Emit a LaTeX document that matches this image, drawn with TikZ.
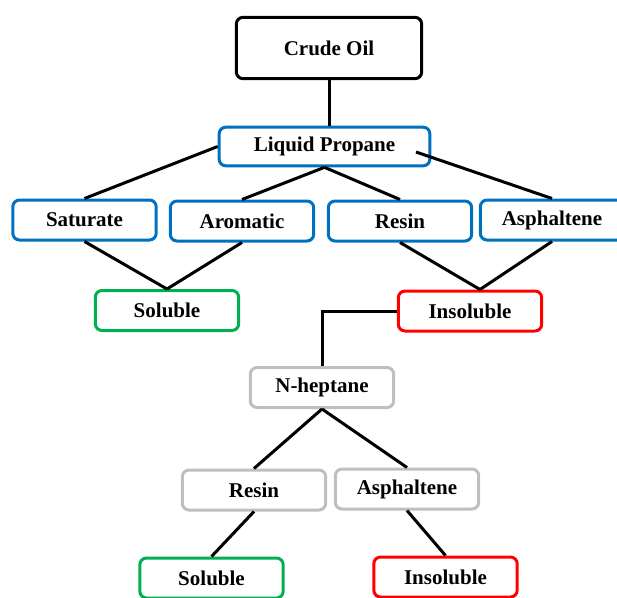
\documentclass[tikz,border=0pt]{standalone}
\usepackage{fontspec}
\setmainfont{Liberation Serif}
\usetikzlibrary{calc}

\definecolor{boxblue}{RGB}{0,112,192}
\definecolor{boxgreen}{RGB}{0,176,80}
\definecolor{boxred}{RGB}{255,0,0}
\definecolor{boxgray}{RGB}{191,191,191}

\tikzset{every picture/.style={line width=0.75pt}}
\tikzset{
  box/.style={draw, line width=2.25pt, rounded corners=5pt, fill=white, inner sep=0pt,
    minimum width=107.5pt, minimum height=30pt, font=\fontsize{15.75}{18}\selectfont\bfseries},
  link/.style={line width=2.25pt},
}

\begin{document}
\begin{tikzpicture}[x=0.75pt,y=0.75pt,yscale=-1,xscale=1]
\useasboundingbox (0,0) rectangle (617,597);

% propane step
\node [box, minimum width=139pt, minimum height=46pt] (crude) at (329,48) {Crude Oil};
\node [box, draw=boxblue, minimum width=158pt, minimum height=29pt] (prop) at (324.5,146.5) {Liquid Propane};
\node [box, draw=boxblue] (sat) at (84.5,220) {Saturate};
\node [box, draw=boxblue] (aro) at (242,221) {Aromatic};
\node [box, draw=boxblue] (res) at (400,221) {Resin};
\node [box, draw=boxblue] (asp) at (552,220) {Asphaltene};
\node [box, draw=boxgreen] (sol) at (167,310.5) {Soluble};
\node [box, draw=boxred] (ins) at (470,311) {Insoluble};

% heptane step
\node [box, draw=boxgray] (hep) at (322,387.5) {N-heptane};
\node [box, draw=boxgray] (hres) at (254,490) {Resin};
\node [box, draw=boxgray] (hasp) at (407,489) {Asphaltene};
\node [box, draw=boxgreen] (hsol) at (211.5,578) {Soluble};
\node [box, draw=boxred] (hins) at (445.5,577) {Insoluble};

\coordinate (propend) at (416,152);

\draw [link] (crude.south) -- (crude.south |- prop.north);
\draw [link] (prop.west) -- (sat.north);
\draw [link] (prop.south) -- (aro.north);
\draw [link] (prop.south) -- (res.north);
\draw [link] (propend) -- (asp.north);
\draw [link] (sat.south) -- (sol.north);
\draw [link] (aro.south) -- (sol.north);
\draw [link] (res.south) -- ($(ins.north)+(10,0)$);
\draw [link] (asp.south) -- ($(ins.north)+(10,0)$);
\draw [link] (ins.west) -| (hep.north);
\draw [link] (hep.south) -- (hres.north);
\draw [link] (hep.south) -- (hasp.north);
\draw [link] (hres.south) -- (hsol.north);
\draw [link] (hasp.south) -- (hins.north);

\end{tikzpicture}
\end{document}
